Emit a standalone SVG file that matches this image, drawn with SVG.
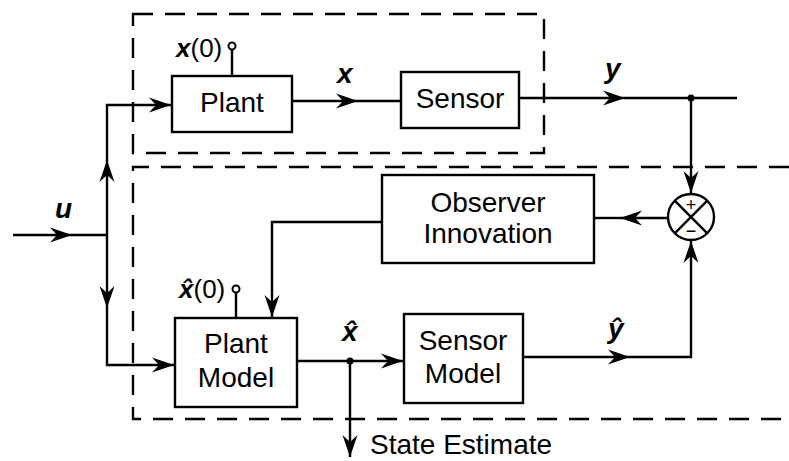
<svg xmlns="http://www.w3.org/2000/svg" width="789" height="461" viewBox="0 0 789 461">
<style>
.box{fill:#fff;stroke:#000;stroke-width:2.4}
.ln{fill:none;stroke:#000;stroke-width:2.4}
.dash{fill:none;stroke:#000;stroke-width:2.4;stroke-dasharray:20 12}
.t{font-family:"Liberation Sans",Arial,sans-serif;font-size:28px;fill:#000}
.c{text-anchor:middle}
.v{font-family:"Liberation Sans",Arial,sans-serif;font-size:28px;font-weight:bold;font-style:italic;fill:#000}
.s{font-family:"Liberation Sans",Arial,sans-serif;font-size:18px;fill:#000;text-anchor:middle}
</style>
<defs>
<marker id="ah" viewBox="-24 -9 26 18" refX="0" refY="0" markerWidth="26" markerHeight="18" markerUnits="userSpaceOnUse" orient="auto">
<path d="M0,0 L-22,-7.5 L-15,0 L-22,7.5 Z" fill="#000"/>
</marker>
</defs>

<g id="boundaries">
<path class="dash" d="M133,14 H544 V153 H133 Z"/>
<path class="dash" d="M789,167 H133 V419 H789"/>
</g>

<g id="connectors">
<path class="ln" d="M13,235 H72" marker-end="url(#ah)"/>
<path class="ln" d="M72,235 H107"/>
<path class="ln" d="M107,235 V160" marker-end="url(#ah)"/>
<path class="ln" d="M107,160 V105 H171" marker-end="url(#ah)"/>
<path class="ln" d="M107,235 V308" marker-end="url(#ah)"/>
<path class="ln" d="M107,308 V365 H174" marker-end="url(#ah)"/>
<path class="ln" d="M292,101 H358" marker-end="url(#ah)"/>
<path class="ln" d="M358,101 H401"/>
<path class="ln" d="M232,76 V50"/>
<path class="ln" d="M236,318 V293"/>
<path class="ln" d="M519,98 H625" marker-end="url(#ah)"/>
<path class="ln" d="M625,98 H737"/>
<path class="ln" d="M691,98 V193" marker-end="url(#ah)"/>
<path class="ln" d="M668,218 H620" marker-end="url(#ah)"/>
<path class="ln" d="M620,218 H594"/>
<path class="ln" d="M382,222 H272 V317" marker-end="url(#ah)"/>
<path class="ln" d="M297,361 H403" marker-end="url(#ah)"/>
<path class="ln" d="M350,361 V457" marker-end="url(#ah)"/>
<path class="ln" d="M523,357 H630" marker-end="url(#ah)"/>
<path class="ln" d="M630,357 H691 V241" marker-end="url(#ah)"/>
<circle cx="691" cy="98" r="3.5" fill="#000"/>
<circle cx="350" cy="361" r="3.5" fill="#000"/>
<circle cx="232" cy="46" r="3.5" fill="#fff" stroke="#000" stroke-width="2"/>
<circle cx="236" cy="289" r="3.5" fill="#fff" stroke="#000" stroke-width="2"/>
</g>

<g id="plant">
<rect class="box" x="172" y="76" width="120" height="56"/>
<text class="t c" x="232" y="112">Plant</text>
</g>

<g id="sensor">
<rect class="box" x="401" y="72" width="118" height="56"/>
<text class="t c" x="460" y="108">Sensor</text>
</g>

<g id="observer-innovation">
<rect class="box" x="382" y="175" width="212" height="88"/>
<text class="t c" x="488" y="212">Observer</text>
<text class="t c" x="488" y="243">Innovation</text>
</g>

<g id="plant-model">
<rect class="box" x="175" y="318" width="122" height="89"/>
<text class="t c" x="236" y="353">Plant</text>
<text class="t c" x="236" y="387">Model</text>
</g>

<g id="sensor-model">
<rect class="box" x="404" y="314" width="119" height="89"/>
<text class="t c" x="463" y="350">Sensor</text>
<text class="t c" x="463" y="383">Model</text>
</g>

<g id="summing-junction">
<circle cx="691" cy="217" r="23" fill="#fff" stroke="#000" stroke-width="2.4"/>
<path class="ln" d="M674.7,200.7 L707.3,233.3 M707.3,200.7 L674.7,233.3" stroke-width="2"/>
<text class="s" x="691" y="211">+</text>
<text class="s" x="691" y="237">−</text>
</g>

<g id="labels">
<text class="v" x="55" y="218">u</text>
<text x="176" y="57" class="t" style="font-size:26px"><tspan class="v" style="font-size:26px">x</tspan>(0)</text>
<text class="v" x="337" y="83">x</text>
<text class="v" x="605" y="78">y</text>
<text x="179" y="298" class="t" style="font-size:26px"><tspan class="v" style="font-size:26px">x̂</tspan>(0)</text>
<text class="v" x="342" y="341">x̂</text>
<text class="v" x="608" y="338">ŷ</text>
<text class="t" x="370" y="454">State Estimate</text>
</g>
</svg>
